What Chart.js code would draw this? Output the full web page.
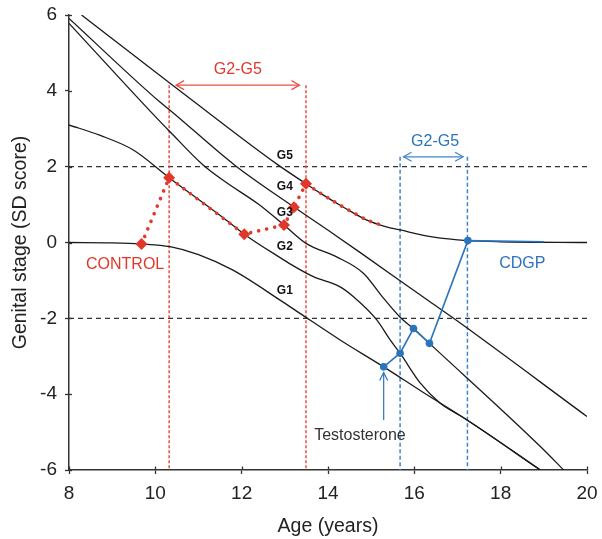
<!DOCTYPE html>
<html><head><meta charset="utf-8">
<script src="https://cdn.jsdelivr.net/npm/chart.js@4.4.1/dist/chart.umd.min.js"></script>
<style>html,body{margin:0;padding:0;background:#fff;}</style>
</head><body>
<canvas id="c" width="602" height="539"></canvas>
<script>
// ---- data ----
const ageG1 = [8, 9, 9.68, 10.34, 11, 11.8, 12.89, 13.35, 14.28, 15.29, 16.2, 17.22, 18.92];
const sdsG1 = [0, -0.01, -0.04, -0.11, -0.32, -0.73, -1.52, -1.87, -2.57, -3.28, -3.95, -4.68, -6];
const ageG2 = [8, 8.71, 9.49, 10.32, 11.61, 12.06, 12.89, 13.16, 13.66, 14.28, 14.59, 15.13, 15.44, 15.67, 16.14, 16.6, 16.9, 17.22, 18.92];
const sdsG2 = [3.1, 2.83, 2.44, 1.71, 0.62, 0.22, -0.4, -0.59, -0.9, -1.17, -1.43, -2.04, -2.57, -2.92, -3.71, -4.24, -4.46, -4.68, -6];
const ageG3 = [8, 10.1, 10.34, 11.1, 11.62, 12.4, 12.98, 13.5, 14.2, 14.82, 15.25, 15.67, 15.98, 16.35, 18.92, 19.46];
const sdsG3 = [5.78, 3.2, 2.92, 2.05, 1.6, 1.0, 0.46, -0.03, -0.38, -0.81, -1.42, -1.97, -2.27, -2.66, -5.38, -6];
const ageG4 = [8, 10.1, 10.34, 11.84, 13.22, 14.16, 14.74, 16.37, 16.91, 20];
const sdsG4 = [5.91, 3.71, 3.49, 2.04, 0.93, 0.2, -0.26, -1.57, -2.0, -4.59];
const ageG5 = [8.29, 10.34, 10.65, 12.85, 13.49, 13.81, 14.36, 14.9, 15.33, 15.67, 16.45, 17.24, 18, 20];
const sdsG5 = [6, 4.2, 3.93, 2.04, 1.55, 1.31, 0.93, 0.59, 0.42, 0.33, 0.14, 0.05, 0.02, 0];

const controlVisitAge = [9.68, 10.32, 12.06, 12.98, 13.21, 13.49];
const controlVisitSds = [-0.04, 1.71, 0.22, 0.46, 0.93, 1.55];
const controlTailAge = [13.81, 14.36, 14.9, 15.33];
const controlTailSds = [1.31, 0.93, 0.59, 0.42];

const cdgpVisitAge = [15.29, 15.67, 15.98, 16.35, 17.24];
const cdgpVisitSds = [-3.28, -2.92, -2.27, -2.66, 0.05];
const cdgpTailAge = [19.0];
const cdgpTailSds = [0.02];

const refSds = [-2, 2];
const controlWindow = [10.32, 13.49];
const controlWindowTop = 4.15;
const controlArrowEnds = [10.48, 13.34];
const cdgpWindow = [15.67, 17.23];
const cdgpWindowTop = 2.26;
const cdgpArrowEnds = [15.75, 17.13];

const stageNames = ['G1', 'G2', 'G3', 'G4', 'G5'];
const stageLabelAge = 13.0;
const stageLabelSds = [-1.27, -0.11, 0.79, 1.47, 2.29];

const xTicks = [8, 10, 12, 14, 16, 18, 20];
const yTicks = [-6, -4, -2, 0, 2, 4, 6];

// ---- styling ----
const RED = '#e2372b', RED_LIGHT = '#ea4f45', BLUE = '#2b74bb', BLUE_LIGHT = '#3f86c8', BLACK = '#1a1a1a';
const FONT = '"Liberation Sans", Arial, sans-serif';
const pts = (a, s) => a.map((v, i) => ({x: v, y: s[i]}));

function curve(a, s) {
  return {data: pts(a, s), borderColor: BLACK, borderWidth: 1.3, pointRadius: 0,
          cubicInterpolationMode: 'monotone', fill: false, order: 5};
}
function vline(xv, top, color, dash) {
  return {data: [{x: xv, y: top}, {x: xv, y: -6}], borderColor: color, borderWidth: 1.5,
          borderDash: dash, pointRadius: 0, fill: false, order: 8};
}

const datasets = [
  {data: pts(cdgpVisitAge.concat(cdgpTailAge), cdgpVisitSds.concat(cdgpTailSds)),
   borderColor: BLUE, backgroundColor: BLUE, borderWidth: 1.6, tension: 0,
   pointRadius: ctx => ctx.dataIndex < cdgpVisitAge.length ? 3.8 : 0,
   pointBorderWidth: 0, pointStyle: 'circle', order: 0},
  {data: pts(controlVisitAge, controlVisitSds), showLine: false, pointStyle: 'rectRot',
   pointRadius: 6, pointBorderWidth: 0, backgroundColor: RED, borderColor: RED, order: 1},
  {data: pts(controlVisitAge.concat(controlTailAge), controlVisitSds.concat(controlTailSds)),
   borderColor: RED, borderWidth: 3.6, borderDash: [0.01, 8.2], borderCapStyle: 'round',
   pointRadius: 0, tension: 0, order: 2},
  curve(ageG1, sdsG1), curve(ageG2, sdsG2), curve(ageG3, sdsG3), curve(ageG4, sdsG4), curve(ageG5, sdsG5),
  ...refSds.map(r => ({data: [{x: 8, y: r}, {x: 20, y: r}], borderColor: '#333', borderWidth: 1.2,
     borderDash: [5, 4], pointRadius: 0, order: 9})),
  ...controlWindow.map(v => vline(v, controlWindowTop, RED_LIGHT, [3, 2])),
  ...cdgpWindow.map(v => vline(v, cdgpWindowTop, BLUE_LIGHT, [4, 2.5]))
];

function chevron(ctx, tx, ty, dx, dy, len, half) {
  ctx.beginPath();
  ctx.moveTo(tx - dx * len - dy * half, ty - dy * len + dx * half);
  ctx.lineTo(tx, ty);
  ctx.lineTo(tx - dx * len + dy * half, ty - dy * len - dx * half);
  ctx.stroke();
}
function dblArrow(ctx, x1, x2, yy, color) {
  ctx.strokeStyle = color; ctx.lineWidth = 1.2;
  ctx.beginPath(); ctx.moveTo(x1, yy); ctx.lineTo(x2, yy); ctx.stroke();
  chevron(ctx, x1, yy, -1, 0, 8, 4.5);
  chevron(ctx, x2, yy, 1, 0, 8, 4.5);
}

const annot = {
  id: 'annot',
  afterDraw(chart) {
    const {ctx, scales: {x, y}} = chart;
    const X = v => x.getPixelForValue(v), Y = v => y.getPixelForValue(v);
    ctx.save();
    // inner part of tick marks
    ctx.strokeStyle = '#333'; ctx.lineWidth = 1.3;
    xTicks.forEach(t => { const p = Math.round(X(t)) + 0.5; ctx.beginPath(); ctx.moveTo(p, y.bottom); ctx.lineTo(p, y.bottom - 3.5); ctx.stroke(); });
    yTicks.forEach(t => { const p = Math.round(Y(t)) + 0.5; ctx.beginPath(); ctx.moveTo(x.left, p); ctx.lineTo(x.left + 3, p); ctx.stroke(); });
    // window arrows
    dblArrow(ctx, X(controlArrowEnds[0]), X(controlArrowEnds[1]), Y(controlWindowTop), RED_LIGHT);
    dblArrow(ctx, X(cdgpArrowEnds[0]), X(cdgpArrowEnds[1]), Y(cdgpWindowTop), BLUE_LIGHT);
    // testosterone arrow
    const tx = X(cdgpVisitAge[0]);
    ctx.strokeStyle = BLUE; ctx.lineWidth = 1.2;
    ctx.beginPath(); ctx.moveTo(tx, Y(-4.68)); ctx.lineTo(tx, Y(-3.43)); ctx.stroke();
    chevron(ctx, tx, Y(-3.43), 0, -1, 8, 4);
    // texts
    ctx.textAlign = 'center'; ctx.textBaseline = 'middle';
    ctx.font = '16px ' + FONT;
    ctx.fillStyle = RED;
    ctx.fillText('G2-G5', X(11.91), Y(4.55));
    ctx.fillText('CONTROL', X(9.3), Y(-0.57));
    ctx.fillStyle = BLUE;
    ctx.fillText('G2-G5', X(16.48), Y(2.65));
    ctx.fillText('CDGP', X(18.5), Y(-0.55));
    ctx.fillStyle = '#333';
    ctx.fillText('Testosterone', X(14.74), Y(-5.08));
    ctx.fillStyle = '#111';
    ctx.font = 'bold 12px ' + FONT;
    stageNames.forEach((n, i) => ctx.fillText(n, X(stageLabelAge), Y(stageLabelSds[i])));
    ctx.restore();
  }
};

new Chart(document.getElementById('c'), {
  type: 'line',
  data: {datasets},
  options: {
    responsive: false, animation: false,
    layout: {padding: {left: 0, right: 15, top: 15, bottom: 0}},
    plugins: {legend: {display: false}, tooltip: {enabled: false}},
    elements: {line: {fill: false}},
    scales: {
      x: {type: 'linear', min: 8, max: 20,
          afterBuildTicks: s => { s.ticks = xTicks.map(v => ({value: v})); },
          afterFit: s => { s.height = 69; s.paddingLeft = 0; s.paddingRight = 0; },
          grid: {drawOnChartArea: false, tickLength: 4, color: '#333', tickWidth: 1.3},
          border: {display: true, color: '#333', width: 1.5},
          ticks: {font: {size: 19, family: FONT}, color: '#222', padding: 8, maxRotation: 0},
          title: {display: true, text: 'Age (years)', font: {size: 19.5, family: FONT}, color: '#222', padding: {top: 0, bottom: 1}}},
      y: {type: 'linear', min: -6, max: 6,
          afterBuildTicks: s => { s.ticks = yTicks.map(v => ({value: v})); },
          afterFit: s => { s.width = 69; s.paddingTop = 0; s.paddingBottom = 0; },
          grid: {drawOnChartArea: false, tickLength: 4, color: '#333', tickWidth: 1.3},
          border: {display: true, color: '#333', width: 1.5},
          ticks: {font: {size: 19, family: FONT}, color: '#222', padding: 8},
          title: {display: true, text: 'Genital stage (SD score)', font: {size: 19.5, family: FONT}, color: '#222', padding: {top: 9, bottom: 0}}}
    }
  },
  plugins: [annot]
});
</script>
</body></html>
